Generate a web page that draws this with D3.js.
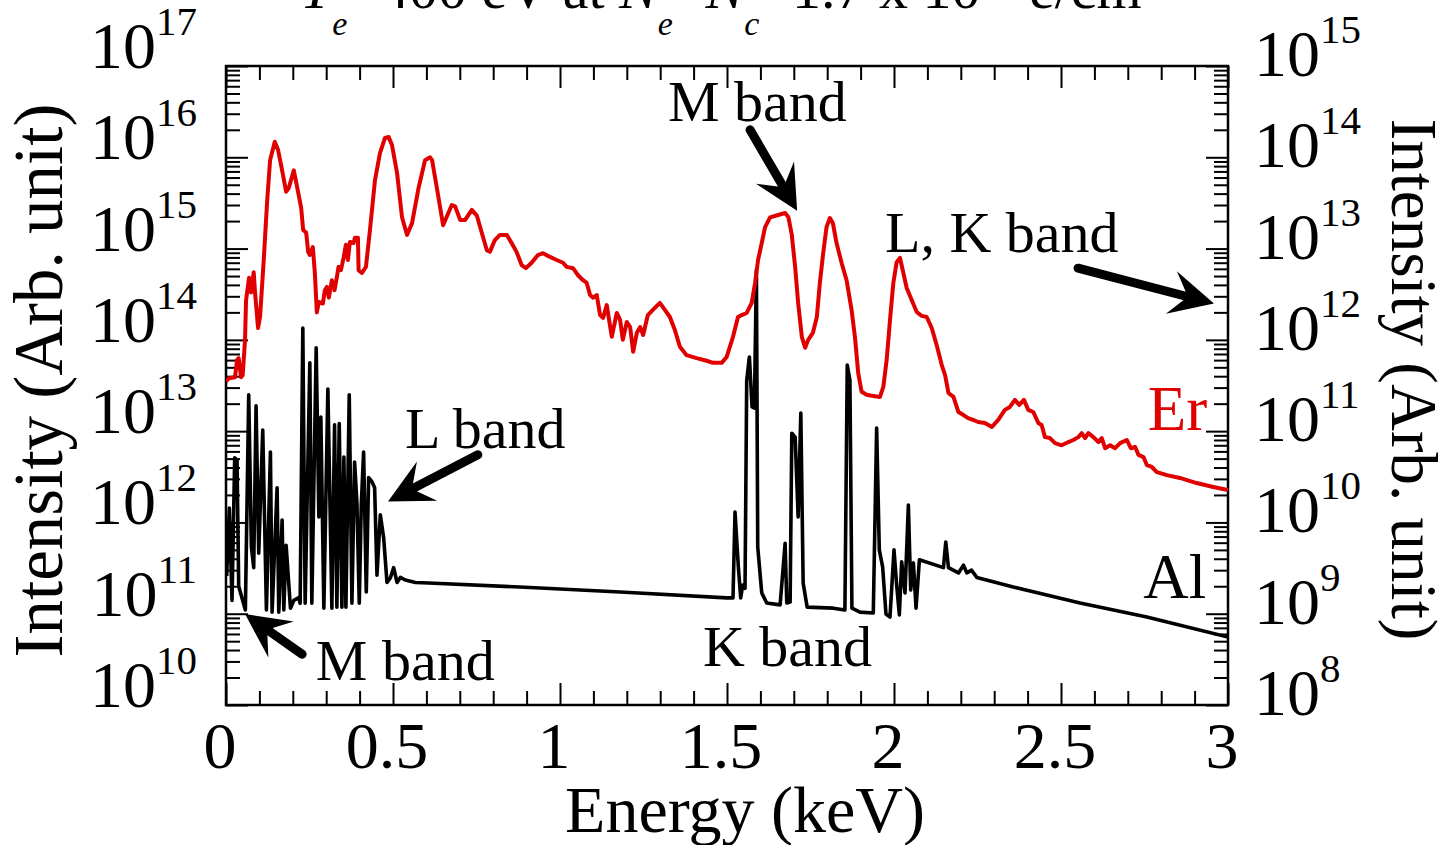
<!DOCTYPE html>
<html>
<head>
<meta charset="utf-8">
<script src="https://cdn.jsdelivr.net/npm/d3@7"></script>
<style>
  html, body { margin: 0; padding: 0; background: #fff; }
  svg { display: block; }
  text { font-family: "Liberation Serif", "Times New Roman", serif; fill: #000; }
</style>
</head>
<body>
<svg id="chart" width="1445" height="845"></svg>
<script>
// ---------------- data ----------------
// Er spectrum (left axis, arb. unit) vs photon energy (keV)
const erEnergy = [
  0.000, 0.009, 0.027, 0.033, 0.038, 0.045, 0.050, 0.057, 0.060, 0.069,
  0.075, 0.083, 0.087, 0.096, 0.102, 0.113, 0.123, 0.132, 0.146, 0.156,
  0.168, 0.180, 0.188, 0.203, 0.213, 0.225, 0.231, 0.240, 0.246, 0.251,
  0.260, 0.266, 0.272, 0.278, 0.290, 0.296, 0.302, 0.308, 0.317, 0.325,
  0.332, 0.337, 0.344, 0.352, 0.359, 0.365, 0.371, 0.382, 0.386, 0.395,
  0.397, 0.407, 0.419, 0.431, 0.446, 0.461, 0.476, 0.487, 0.497, 0.512,
  0.527, 0.542, 0.557, 0.577, 0.596, 0.611, 0.617, 0.631, 0.650, 0.676,
  0.686, 0.701, 0.716, 0.736, 0.751, 0.766, 0.781, 0.790, 0.805, 0.820,
  0.841, 0.855, 0.870, 0.885, 0.898, 0.915, 0.934, 0.949, 0.970, 0.990,
  1.009, 1.020, 1.039, 1.054, 1.069, 1.080, 1.090, 1.099, 1.110, 1.120,
  1.129, 1.140, 1.155, 1.170, 1.180, 1.188, 1.200, 1.210, 1.219, 1.230,
  1.240, 1.249, 1.263, 1.278, 1.299, 1.314, 1.329, 1.344, 1.359, 1.379,
  1.409, 1.439, 1.458, 1.484, 1.499, 1.518, 1.533, 1.544, 1.559, 1.574,
  1.584, 1.593, 1.604, 1.614, 1.629, 1.653, 1.674, 1.684, 1.694, 1.704,
  1.713, 1.724, 1.734, 1.743, 1.757, 1.769, 1.778, 1.788, 1.798, 1.808,
  1.817, 1.828, 1.843, 1.858, 1.873, 1.883, 1.893, 1.903, 1.918, 1.938,
  1.958, 1.968, 1.978, 1.988, 1.998, 2.008, 2.018, 2.028, 2.038, 2.053,
  2.068, 2.083, 2.098, 2.113, 2.128, 2.143, 2.153, 2.163, 2.178, 2.193,
  2.208, 2.222, 2.237, 2.252, 2.272, 2.293, 2.312, 2.332, 2.347, 2.362,
  2.375, 2.389, 2.402, 2.417, 2.432, 2.442, 2.452, 2.467, 2.482, 2.502,
  2.522, 2.537, 2.552, 2.562, 2.572, 2.582, 2.597, 2.612, 2.622, 2.632,
  2.647, 2.662, 2.677, 2.697, 2.709, 2.722, 2.732, 2.747, 2.757, 2.772,
  2.787, 2.817, 2.856, 2.906, 2.956, 3.000
];
const erIntensity = [
  3.5e13, 3.8e13, 3.9e13, 6.0e13, 6.3e13, 3.9e13, 4.1e13, 1.0e14, 2.7e14, 4.8e14,
  3.3e14, 5.5e14, 3.3e14, 1.35e14, 1.8e14, 7.5e14, 3.2e15, 9.3e15, 1.48e16, 1.2e16,
  7.2e15, 4.2e15, 4.6e15, 7.2e15, 4.7e15, 2.8e15, 1.6e15, 1.5e15, 9.2e14, 8.5e14,
  1.04e15, 5.4e14, 2.0e14, 2.6e14, 2.5e14, 3.5e14, 3.8e14, 2.9e14, 4.5e14, 3.5e14,
  4.9e14, 6.3e14, 5.8e14, 7.9e14, 1.1e15, 7.5e14, 1.18e15, 1.15e15, 1.31e15, 1.31e15,
  5.8e14, 5.4e14, 6.3e14, 1.6e15, 5.6e15, 1.11e16, 1.63e16, 1.67e16, 1.36e16, 6.8e15,
  2.2e15, 1.41e15, 1.9e15, 4.7e15, 9.3e15, 1.0e16, 9.3e15, 4.7e15, 1.8e15, 3.0e15,
  2.9e15, 2.06e15, 2.06e15, 2.65e15, 2.3e15, 1.48e15, 9.6e14, 9.2e14, 1.24e15, 1.41e15,
  1.41e15, 1.15e15, 9.2e14, 6.6e14, 6.1e14, 7.0e14, 8.5e14, 8.9e14, 8.1e14, 7.5e14,
  7.0e14, 6.3e14, 6.1e14, 5.1e14, 4.5e14, 4.2e14, 3.1e14, 2.9e14, 3.1e14, 1.87e14,
  1.74e14, 2.4e14, 1.08e14, 1.97e14, 1.65e14, 1.0e14, 1.57e14, 1.38e14, 7.4e13, 1.19e14,
  1.38e14, 1.13e14, 1.87e14, 2.13e14, 2.54e14, 2.13e14, 1.78e14, 1.28e14, 8.4e13, 6.8e13,
  6.3e13, 5.9e13, 5.6e13, 5.6e13, 6.5e13, 1.08e14, 1.78e14, 1.87e14, 1.97e14, 2.54e14,
  4.2e14, 7.5e14, 1.15e15, 1.72e15, 2.2e15, 2.33e15, 2.45e15, 2.2e15, 1.41e15, 6.3e14,
  2.54e14, 1.08e14, 8.2e13, 1.0e14, 1.19e14, 1.78e14, 4.2e14, 8.9e14, 1.72e15, 2.16e15,
  1.9e15, 1.15e15, 7.0e14, 4.5e14, 2.13e14, 1.08e14, 4.3e13, 2.7e13, 2.5e13, 2.43e13,
  2.37e13, 3.05e13, 6.0e13, 1.65e14, 4.2e14, 7.1e14, 7.9e14, 5.4e14, 3.7e14, 2.73e14,
  2.02e14, 1.83e14, 1.78e14, 1.35e14, 8.7e13, 5.3e13, 4.1e13, 2.62e13, 2.37e13, 1.62e13,
  1.5e13, 1.39e13, 1.33e13, 1.26e13, 1.23e13, 1.11e13, 1.33e13, 1.71e13, 1.84e13, 2.2e13,
  1.94e13, 2.2e13, 1.71e13, 1.62e13, 1.23e13, 1.17e13, 8.6e12, 8.4e12, 7.4e12, 7.0e12,
  7.6e12, 8.0e12, 8.6e12, 9.5e12, 8.4e12, 9.5e12, 8.6e12, 7.6e12, 8.4e12, 6.5e12,
  7.0e12, 6.5e12, 7.4e12, 8.0e12, 6.5e12, 6.7e12, 5.5e12, 5.2e12, 4.25e12, 4.05e12,
  3.56e12, 3.3e12, 3.07e12, 2.7e12, 2.44e12, 2.26e12
];

// Al spectrum (right axis, arb. unit) vs photon energy (keV)
const alEnergy = [
  0.002, 0.010, 0.018, 0.026, 0.033, 0.038, 0.058, 0.068, 0.076, 0.083,
  0.090, 0.098, 0.110, 0.121, 0.133, 0.138, 0.153, 0.158, 0.168, 0.173,
  0.180, 0.193, 0.203, 0.218, 0.222, 0.230, 0.237, 0.251, 0.257, 0.270,
  0.278, 0.284, 0.293, 0.305, 0.317, 0.325, 0.332, 0.339, 0.347, 0.353,
  0.359, 0.369, 0.377, 0.385, 0.392, 0.399, 0.405, 0.412, 0.420, 0.427,
  0.437, 0.445, 0.452, 0.462, 0.472, 0.482, 0.492, 0.502, 0.512, 0.522,
  0.537, 0.567, 0.607, 0.880, 1.180, 1.499, 1.518, 1.524, 1.534, 1.541,
  1.547, 1.554, 1.559, 1.567, 1.575, 1.582, 1.588, 1.592, 1.604, 1.619,
  1.659, 1.674, 1.679, 1.689, 1.694, 1.704, 1.713, 1.721, 1.728, 1.740,
  1.818, 1.853, 1.860, 1.868, 1.874, 1.898, 1.938, 1.948, 1.956, 1.966,
  1.976, 1.988, 2.000, 2.008, 2.016, 2.023, 2.033, 2.043, 2.050, 2.058,
  2.066, 2.076, 2.148, 2.155, 2.163, 2.193, 2.208, 2.218, 2.232, 2.248,
  2.357, 2.557, 2.757, 3.000
];
const alIntensity = [
  2.6e9, 1.44e10, 1.4e9, 5.1e10, 4.8e10, 2.0e9, 1.1e9, 2.5e11, 5.4e9, 3.2e9,
  1.9e11, 4.6e9, 1.03e11, 1.1e9, 5.9e10, 1.04e9, 2.4e10, 1.04e9, 1.06e10, 1.1e9,
  5.6e9, 1.15e9, 1.4e9, 1.5e9, 1.3e9, 1.35e12, 1.3e9, 5.6e11, 1.3e9, 8.2e11,
  1.15e10, 1.43e11, 1.15e9, 2.9e11, 1.15e9, 1.17e11, 1.18e9, 1.21e11, 1.18e9, 5.2e10,
  1.18e9, 2.5e11, 1.3e9, 4.6e10, 1.63e10, 1.3e9, 1.55e10, 5.9e10, 1.73e9, 3.1e10,
  2.8e10, 2.4e10, 2.65e9, 1.21e10, 6.8e9, 2.2e9, 2.46e9, 3.2e9, 2.2e9, 2.5e9,
  2.34e9, 2.2e9, 2.17e9, 1.96e9, 1.73e9, 1.49e9, 1.49e9, 1.3e10, 3.25e9, 1.49e9,
  2.06e9, 1.9e9, 3.6e11, 6.5e11, 1.84e11, 1.79e11, 5.8e12, 5.4e9, 1.69e9, 1.31e9,
  1.25e9, 5.9e9, 1.31e9, 1.34e9, 9.5e10, 8.6e10, 1.15e10, 1.58e11, 2.17e9, 1.18e9,
  1.15e9, 1.1e9, 5.3e11, 3.6e11, 1.15e9, 1.04e9, 1.02e9, 1.08e11, 5.0e9, 3.25e9,
  9.9e8, 9.2e8, 5.0e9, 2.06e9, 9.7e8, 3.7e9, 1.69e9, 1.55e10, 1.82e9, 3.6e9,
  1.15e9, 3.9e9, 3.2e9, 6.1e9, 3.2e9, 2.8e9, 3.4e9, 2.8e9, 3.0e9, 2.5e9,
  1.96e9, 1.31e9, 9.2e8, 5.55e8
];

// axis tick values
const energyMajor = [0, 0.5, 1, 1.5, 2, 2.5, 3];
const energyMinor = [0.1, 0.2, 0.3, 0.4, 0.6, 0.7, 0.8, 0.9, 1.1, 1.2, 1.3, 1.4,
                     1.6, 1.7, 1.8, 1.9, 2.1, 2.2, 2.3, 2.4, 2.6, 2.7, 2.8, 2.9];
const energyLabels = ["0", "0.5", "1", "1.5", "2", "2.5", "3"];
const leftExponents = [10, 11, 12, 13, 14, 15, 16, 17];
const rightExponents = [8, 9, 10, 11, 12, 13, 14, 15];

// text annotations, anchored in (keV, left-axis intensity)
const notes = [
  { text: "M band",    e: 1.323, v: 2.5e16 },
  { text: "L, K band", e: 1.973, v: 9.2e14 },
  { text: "L band",    e: 0.536, v: 6.5e12 },
  { text: "M band",    e: 0.269, v: 1.9e10 },
  { text: "K band",    e: 1.428, v: 2.7e10 }
];
const seriesNames = [
  { text: "Er", e: 2.760, v: 1.03e13, color: "#e00000" },
  { text: "Al", e: 2.746, v: 1.5e11,  color: "#000" }
];
// arrows: tail -> tip, in (keV, left-axis intensity)
const arrows = [
  { from: [1.569, 2.0e16], to: [1.710, 2.6e15] },
  { from: [2.551, 6.1e14], to: [2.958, 2.5e14] },
  { from: [0.754, 5.5e12], to: [0.485, 1.7e12] },
  { from: [0.228, 3.6e10], to: [0.057, 9.9e10] }
];

// ---------------- layout ----------------
const svg = d3.select("#chart");
const L = 226, R = 1228, T = 66, B = 705;

const x = d3.scaleLinear().domain([0, 3]).range([L, R]);
const yL = d3.scaleLog().domain([1e10, 1e17]).range([B, T]);
const yR = d3.scaleLog().domain([1e8, 1e15]).range([B, T]);

const MAJ = 22, MIN = 14;

function logMinors(exps) {
  const out = [];
  for (let i = 0; i < exps.length - 1; i++)
    for (let k = 2; k <= 9; k++) out.push(k * Math.pow(10, exps[i]));
  return out;
}

function tickAxis(gen, vals, size, tr) {
  const g = svg.append("g").attr("transform", tr)
    .call(gen.tickValues(vals).tickSize(size).tickFormat(""));
  g.select(".domain").remove();
  g.selectAll("line").attr("stroke", "#000").attr("stroke-width", 2);
  g.selectAll("text").remove();
  return g;
}

// bottom & top (inward ticks)
tickAxis(d3.axisBottom(x), energyMajor, -MAJ, `translate(0,${B})`);
tickAxis(d3.axisBottom(x), energyMinor, -MIN, `translate(0,${B})`);
tickAxis(d3.axisTop(x), energyMajor, -MAJ, `translate(0,${T})`);
tickAxis(d3.axisTop(x), energyMinor, -MIN, `translate(0,${T})`);
// left & right
tickAxis(d3.axisLeft(yL), leftExponents.map(e => Math.pow(10, e)), -MAJ, `translate(${L},0)`);
tickAxis(d3.axisLeft(yL), logMinors(leftExponents), -MIN, `translate(${L},0)`);
tickAxis(d3.axisRight(yR), rightExponents.map(e => Math.pow(10, e)), -MAJ, `translate(${R},0)`);
tickAxis(d3.axisRight(yR), logMinors(rightExponents), -MIN, `translate(${R},0)`);

// frame
svg.append("rect").attr("x", L).attr("y", T).attr("width", R - L).attr("height", B - T)
  .attr("fill", "none").attr("stroke", "#000").attr("stroke-width", 2.5);

// x tick labels
svg.append("g").selectAll("text").data(energyMajor).join("text")
  .attr("x", d => x(d) - 6).attr("y", 768)
  .attr("text-anchor", "middle").attr("font-size", 66)
  .text((d, i) => energyLabels[i]);

// power-of-ten labels
function powerLabel(g, px, py, exp, anchor) {
  const t = g.append("text").attr("x", px).attr("y", py).attr("text-anchor", anchor);
  t.append("tspan").attr("font-size", 66).text("10");
  t.append("tspan").attr("font-size", 41).attr("dy", -33).text(exp);
}
const gl = svg.append("g");
leftExponents.forEach(e => powerLabel(gl, 197, yL(Math.pow(10, e)) + 2, e, "end"));
const gr = svg.append("g");
rightExponents.forEach(e => powerLabel(gr, 1254, yR(Math.pow(10, e)) + 10, e, "start"));

// axis titles
svg.append("text").attr("transform", `translate(62,${(T + B) / 2 - 5}) rotate(-90)`)
  .attr("text-anchor", "middle").attr("font-size", 69).text("Intensity (Arb. unit)");
svg.append("text").attr("transform", `translate(1392,${(T + B) / 2 - 6}) rotate(90)`)
  .attr("text-anchor", "middle").attr("font-size", 65).text("Intensity (Arb. unit)");
svg.append("text").attr("x", (L + R) / 2 + 18).attr("y", 832)
  .attr("text-anchor", "middle").attr("font-size", 66).text("Energy (keV)");

// title (runs off the top edge)
const titleParts = [
  { t: "T", it: true, s: 0 },
  { t: "e", it: true, s: 27, sm: true },
  { t: "=400 eV at ", s: 0 },
  { t: "N", it: true, s: 0 },
  { t: "e", it: true, s: 27, sm: true },
  { t: "=", s: 0 },
  { t: "N", it: true, s: 0 },
  { t: "c", it: true, s: 27, sm: true },
  { t: "=1.7 x 10", s: 0 },
  { t: "21", s: -30, sm: true },
  { t: " e/cm", s: 0 },
  { t: "3", s: -30, sm: true }
];
const title = svg.append("text").attr("x", 300).attr("y", 8).attr("font-size", 58);
let cur = 0;
titleParts.forEach(p => {
  title.append("tspan").attr("dy", p.s - cur)
    .attr("font-size", p.sm ? 34 : 58)
    .attr("font-style", p.it ? "italic" : "normal").text(p.t);
  cur = p.s;
});

// spectra
const line = yScale => d3.line().x(d => x(d[0])).y(d => yScale(d[1]));
const erData = erEnergy.map((e, i) => [e, erIntensity[i]]);
const alData = alEnergy.map((e, i) => [e, alIntensity[i]]);

svg.append("clipPath").attr("id", "plotclip")
  .append("rect").attr("x", L).attr("y", T).attr("width", R - L).attr("height", B - T);

svg.append("path").datum(alData).attr("d", line(yR))
  .attr("fill", "none").attr("stroke", "#000").attr("stroke-width", 3.6)
  .attr("stroke-linejoin", "round").attr("clip-path", "url(#plotclip)");
svg.append("path").datum(erData).attr("d", line(yL))
  .attr("fill", "none").attr("stroke", "#e00000").attr("stroke-width", 4)
  .attr("stroke-linejoin", "round").attr("clip-path", "url(#plotclip)");

// annotations
svg.append("g").selectAll("text").data(notes).join("text")
  .attr("x", d => x(d.e)).attr("y", d => yL(d.v))
  .attr("font-size", 58).text(d => d.text);
svg.append("g").selectAll("text").data(seriesNames).join("text")
  .attr("x", d => x(d.e)).attr("y", d => yL(d.v))
  .attr("font-size", 63).style("fill", d => d.color).text(d => d.text);

// arrows with notched filled heads
const headLen = 44, headHalf = 22, notch = 27;
const ga = svg.append("g");
arrows.forEach(a => {
  const x0 = x(a.from[0]), y0 = yL(a.from[1]);
  const x1 = x(a.to[0]), y1 = yL(a.to[1]);
  const dx = x1 - x0, dy = y1 - y0, len = Math.hypot(dx, dy);
  const ux = dx / len, uy = dy / len, nx = -uy, ny = ux;
  const nX = x1 - notch * ux, nY = y1 - notch * uy;
  ga.append("line").attr("x1", x0).attr("y1", y0).attr("x2", nX).attr("y2", nY)
    .attr("stroke", "#000").attr("stroke-width", 9).attr("stroke-linecap", "round");
  const bx = x1 - headLen * ux, by = y1 - headLen * uy;
  ga.append("path")
    .attr("d", `M${x1},${y1}L${bx + headHalf * nx},${by + headHalf * ny}L${nX},${nY}L${bx - headHalf * nx},${by - headHalf * ny}Z`)
    .attr("fill", "#000");
});
</script>
</body>
</html>
